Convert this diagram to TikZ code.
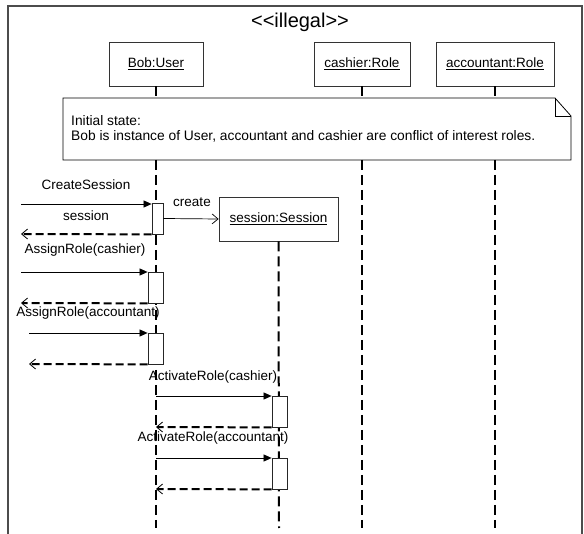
\documentclass[tikz,border=0pt]{standalone}
\usepackage{fontspec}
\setmainfont{Liberation Sans}
\usetikzlibrary{arrows.meta}

\tikzset{
	obj/.style={draw=black!80, line width=0.8pt, fill=white, inner sep=0pt, minimum height=44pt, font=\fontsize{13.5}{15}\selectfont},
	act/.style={draw=black!85, line width=0.8pt, fill=white, inner sep=0pt, minimum width=15pt, minimum height=31pt},
	life/.style={line width=2pt, dash pattern=on 10pt off 5pt},
	call/.style={line width=0.7pt, -{Triangle[length=8pt,width=7pt]}},
	ret/.style={line width=2pt, dash pattern=on 8pt off 4pt, -{Straight Barb[length=6pt,width=10pt,line width=0.8pt]}},
	msg/.style={font=\fontsize{13.5}{15}\selectfont, inner sep=0pt},
}

\begin{document}
\begin{tikzpicture}[x=1pt,y=-1pt]
		\useasboundingbox (0,0) rectangle (584,534);
		\draw[line width=1.5pt, color=black!70] (8,534) -- (8,6) -- (582,6) -- (582,534);
		\node[font=\fontsize{20}{22}\selectfont] (title) at (300,22) {{<}{<}illegal{>}{>}};
		% objects
		\node[obj, minimum width=94pt] (bob) at (156,64) {\underline{Bob:User}};
		\node[obj, minimum width=96pt] (cashier) at (362,64) {\underline{cashier:Role}};
		\node[obj, minimum width=118pt] (accountant) at (495,64) {\underline{accountant:Role}};
		% note
		\draw[line width=0.8pt, fill=white] (63,98) -- (555,98) -- (571,116) -- (571,160) -- (63,160) -- cycle;
		\draw[line width=0.8pt] (555,98) -- (555,116) -- (571,116);
		\node[anchor=north west, align=left, inner sep=0pt, font=\fontsize{13.8}{15.5}\selectfont] (note) at (71,115) {Initial state:\\Bob is instance of User, accountant and cashier are conflict of interest roles.};
		% lifelines
		\draw[life] (bob.south) -- (156,98);
		\draw[life] (cashier.south) -- (362,98);
		\draw[life] (accountant.south) -- (495,98);
		\draw[life] (156,160) -- (156,528);
		\draw[life] (362,160) -- (362,528);
		\draw[life] (495,160) -- (495,528);
		\node[obj, minimum width=119pt] (sess) at (278.5,219) {\underline{session:Session}};
		\draw[life] (sess.south) -- (279,528);
		% activations
		\node[act, minimum width=11pt] (a1) at (157.5,218.5) {};
		\node[act] (a2) at (155.5,287.5) {};
		\node[act] (a3) at (155.5,348.5) {};
		\node[act] (a4) at (279.5,411.5) {};
		\node[act] (a5) at (279.5,473.5) {};
		% messages
		\coordinate (c1) at (21,204);
		\coordinate (r1) at (21,234);
		\coordinate (c2) at (21,272);
		\coordinate (r2) at (21,303);
		\coordinate (c3) at (29,333);
		\coordinate (r3) at (29,364);
		\coordinate (c4) at (156,396);
		\coordinate (r4) at (156,427);
		\coordinate (c5) at (156,458);
		\coordinate (r5) at (156,489);
		\draw[call] (c1) -- (c1 -| a1.west);
		\draw[ret] (a1.south west) -- (r1);
		\draw[line width=0.7pt, -{Straight Barb[length=6pt,width=10pt]}] (a1.east) -- (sess.west);
		\draw[call] (c2) -- (c2 -| a2.west);
		\draw[ret] (a2.south west) -- (r2);
		\draw[call] (c3) -- (c3 -| a3.west);
		\draw[ret] (a3.south west) -- (r3);
		\draw[call] (c4) -- (c4 -| a4.west);
		\draw[ret] (a4.south west) -- (r4);
		\draw[call] (c5) -- (c5 -| a5.west);
		\draw[ret] (a5.south west) -- (r5);
		% labels
		\node[msg] (l1) at (86,185) {CreateSession};
		\node[msg] (l2) at (86,216) {session};
		\node[msg] (l3) at (192,202) {create};
		\node[msg] (l4) at (85,250) {AssignRole(cashier)};
		\node[msg] (l5) at (88,313) {AssignRole(accountant)};
		\node[msg] (l6) at (213,377) {ActivateRole(cashier)};
		\node[msg] (l7) at (213,438) {ActivateRole(accountant)};
	\end{tikzpicture}
\end{document}
